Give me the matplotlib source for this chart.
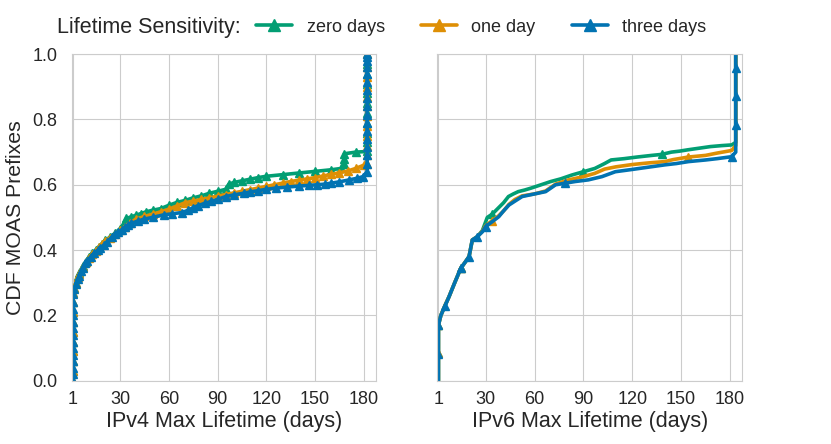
import matplotlib
matplotlib.use("Agg")
import matplotlib.pyplot as plt
import seaborn as sns
from matplotlib.lines import Line2D

sns.set_style("whitegrid")
plt.rcParams['font.family'] = ['Liberation Sans', 'DejaVu Sans']

series_labels = ["zero days", "one day", "three days"]
colors = ["#029e73", "#de8f05", "#0173b2"]
x_ticks = [1, 30, 60, 90, 120, 150, 180]
y_ticks = [0.0, 0.2, 0.4, 0.6, 0.8, 1.0]

# ---- IPv4 (days, CDF) ----
v4_zero_x = [1, 1, 1, 1, 1, 1, 1, 1, 1, 1, 2, 3, 4, 5, 7, 9, 11, 13, 15, 17, 19, 21, 24, 27, 30,
             32, 34, 37, 40, 43, 46, 50, 55, 60, 65, 70, 75, 80, 85, 90, 95, 97, 100, 105, 110,
             115, 120, 130, 140, 150, 160, 166, 168, 168, 168, 175, 182, 182, 182, 182, 182, 182,
             182, 182, 182, 182, 182]
v4_zero_y = [0.0, 0.03, 0.06, 0.09, 0.12, 0.15, 0.18, 0.21, 0.24, 0.27, 0.285, 0.30, 0.32, 0.33,
             0.35, 0.365, 0.38, 0.39, 0.40, 0.41, 0.42, 0.43, 0.44, 0.452, 0.465, 0.478, 0.497,
             0.502, 0.507, 0.512, 0.517, 0.522, 0.527, 0.537, 0.546, 0.552, 0.560, 0.566, 0.574,
             0.580, 0.586, 0.602, 0.607, 0.612, 0.617, 0.622, 0.626, 0.631, 0.636, 0.641, 0.646,
             0.650, 0.665, 0.680, 0.695, 0.700, 0.702, 0.73, 0.76, 0.79, 0.82, 0.85, 0.88, 0.91,
             0.94, 0.97, 1.0]

v4_one_x = [1, 1, 1, 1, 1, 1, 1, 1, 1, 1, 2, 3, 4, 5, 7, 9, 11, 13, 15, 17, 19, 21, 24, 27, 30,
            33, 36, 40, 45, 50, 55, 60, 65, 70, 75, 80, 85, 90, 95, 100, 105, 110, 115, 120, 125,
            130, 135, 140, 145, 150, 155, 160, 165, 170, 175, 180, 182, 182, 182, 182, 182, 182,
            182, 182, 182, 182, 182, 182]
v4_one_y = [0.0, 0.03, 0.06, 0.09, 0.12, 0.15, 0.18, 0.21, 0.24, 0.27, 0.283, 0.30, 0.318,
            0.328, 0.348, 0.362, 0.377, 0.388, 0.398, 0.408, 0.418, 0.428, 0.438, 0.448, 0.46,
            0.472, 0.484, 0.495, 0.503, 0.51, 0.517, 0.525, 0.535, 0.545, 0.55, 0.555, 0.56,
            0.565, 0.57, 0.575, 0.58, 0.585, 0.59, 0.595, 0.60, 0.605, 0.61, 0.614, 0.618, 0.622,
            0.627, 0.632, 0.637, 0.642, 0.65, 0.66, 0.665, 0.69, 0.72, 0.75, 0.78, 0.81, 0.84,
            0.87, 0.90, 0.93, 0.96, 1.0]

v4_three_x = [1, 1, 1, 1, 1, 1, 1, 1, 1, 1, 1, 1, 1, 1, 2, 3, 4, 5, 6, 7, 8.5, 10, 12, 14, 16.7,
              18, 20, 22, 25, 27, 29, 31, 33, 35, 37, 41, 45, 50, 57, 62, 68, 72, 75, 78, 82,
              86, 90, 95, 100, 106, 110, 115, 120, 126, 133, 140, 146, 151, 156, 160, 165, 171,
              176, 179.5, 182, 182, 182, 182, 182, 182, 182, 182, 182, 182, 182, 182, 182, 182,
              182, 182, 182]
v4_three_y = [0.0, 0.02, 0.04, 0.06, 0.08, 0.10, 0.12, 0.14, 0.16, 0.18, 0.20, 0.22, 0.24, 0.265,
              0.28, 0.295, 0.31, 0.322, 0.335, 0.345, 0.36, 0.368, 0.38, 0.39, 0.40, 0.407, 0.415,
              0.425, 0.44, 0.448, 0.455, 0.462, 0.47, 0.476, 0.482, 0.489, 0.495, 0.50, 0.508,
              0.511, 0.515, 0.522, 0.53, 0.536, 0.543, 0.549, 0.555, 0.564, 0.569, 0.574, 0.578,
              0.582, 0.586, 0.59, 0.593, 0.596, 0.598, 0.60, 0.602, 0.605, 0.609, 0.615, 0.62,
              0.625, 0.64, 0.665, 0.69, 0.715, 0.74, 0.765, 0.79, 0.815, 0.84, 0.865, 0.89, 0.915,
              0.94, 0.96, 0.98, 0.99, 1.0]

# ---- IPv6 (days, CDF) ----
v6_zero_x = [1, 1, 1, 2.5, 5, 7.5, 11, 14.7, 17, 19.8, 21.8, 24.9, 28, 31, 34, 38, 41, 44, 47,
             50, 54, 58, 64, 70, 76, 83, 90, 97, 103, 107, 115, 123, 132, 138, 144, 149, 154,
             161, 168, 175, 181, 183.5, 183.5, 183.5, 183.5]
v6_zero_y = [0.0, 0.085, 0.17, 0.20, 0.23, 0.257, 0.30, 0.344, 0.36, 0.38, 0.431, 0.441, 0.46,
             0.50, 0.51, 0.53, 0.545, 0.564, 0.572, 0.579, 0.584, 0.59, 0.60, 0.61, 0.618, 0.63,
             0.64, 0.65, 0.665, 0.676, 0.68, 0.685, 0.69, 0.693, 0.70, 0.703, 0.707, 0.712, 0.717,
             0.72, 0.722, 0.73, 0.80, 0.90, 1.0]

v6_one_x = [1, 1, 1, 2.5, 5, 7.5, 11, 14.7, 17, 19.8, 21.8, 24.9, 28, 30, 34, 38, 41, 44.3, 48,
            52.4, 60, 66.8, 72.9, 81, 90, 97, 103, 110, 120, 130, 140, 145, 154.5, 165, 172,
            181, 183.5, 183.5, 183.5, 183.5]
v6_one_y = [0.0, 0.085, 0.17, 0.20, 0.23, 0.257, 0.30, 0.344, 0.36, 0.38, 0.431, 0.441, 0.458,
            0.475, 0.49, 0.505, 0.52, 0.54, 0.555, 0.566, 0.572, 0.581, 0.602, 0.615, 0.625,
            0.635, 0.648, 0.655, 0.662, 0.667, 0.671, 0.677, 0.685, 0.69, 0.697, 0.705, 0.72,
            0.80, 0.90, 1.0]

v6_three_x = [1, 1, 1, 2.5, 5, 7.5, 11, 14.7, 17, 19.8, 21.8, 24.9, 28, 30, 34, 38, 41, 44.3, 48,
              52.4, 60, 66.8, 72.9, 79, 85, 93, 101.4, 109.6, 120, 130, 140, 147, 154.5, 165,
              172, 181, 183.5, 183.5, 183.5, 183.5, 183.5, 183.5]
v6_three_y = [0.0, 0.083, 0.17, 0.20, 0.228, 0.257, 0.30, 0.344, 0.36, 0.38, 0.431, 0.441, 0.456,
              0.472, 0.487, 0.502, 0.52, 0.538, 0.55, 0.564, 0.572, 0.579, 0.60, 0.605, 0.61,
              0.615, 0.625, 0.64, 0.647, 0.654, 0.661, 0.665, 0.671, 0.676, 0.68, 0.686, 0.70,
              0.784, 0.871, 0.958, 0.99, 1.0]

v4 = [(v4_zero_x, v4_zero_y), (v4_one_x, v4_one_y), (v4_three_x, v4_three_y)]
v6 = [(v6_zero_x, v6_zero_y), (v6_one_x, v6_one_y), (v6_three_x, v6_three_y)]
v6_marks = [[1, 2, 7, 14, 26, 33], [1, 2, 7, 14, 32], [1, 2, 4, 7, 9, 11, 13, 23, 35, 37, 38, 39]]

fig = plt.figure(figsize=(8.31, 4.44), dpi=100)
ax1 = fig.add_axes([0.0863, 0.1426, 0.3662, 0.7354])
ax2 = fig.add_axes([0.5262, 0.1426, 0.3670, 0.7354], sharey=ax1)

for (x, y), c in zip(v4, colors):
    ax1.plot(x, y, color=c, lw=2.6, marker='^', ms=5.5, mec=c)
for (x, y), c, me in zip(v6, colors, v6_marks):
    ax2.plot(x, y, color=c, lw=2.6, marker='^', ms=6, mec=c, markevery=me)

for ax, lab in [(ax1, "IPv4 Max Lifetime (days)"), (ax2, "IPv6 Max Lifetime (days)")]:
    ax.set_xlim(0.3, 187.5)
    ax.set_ylim(0, 1.0)
    ax.set_xticks(x_ticks)
    ax.set_yticks(y_ticks)
    ax.set_xlabel(lab, fontsize=15.5, labelpad=2)
    ax.tick_params(axis='x', labelsize=13, pad=4)
    ax.tick_params(axis='y', labelsize=13, pad=7)
    for s in ax.spines.values():
        s.set_color('#cccccc')
ax1.set_ylabel("CDF MOAS Prefixes", fontsize=15.3, labelpad=5)
plt.setp(ax2.get_yticklabels(), visible=False)

fig.text(0.0686, 0.939, "Lifetime Sensitivity:", fontsize=15.5, va='center', ha='left')
handles = [Line2D([0], [0], color=c, lw=2.6, marker='^', ms=8) for c in colors]
fig.legend(handles, series_labels, loc='center left', bbox_to_anchor=(0.308, 0.939),
           ncol=3, frameon=False, fontsize=13, columnspacing=2.0, handlelength=2.0,
           handletextpad=0.8, borderaxespad=0, borderpad=0)

fig.savefig("out.png", dpi=100)
